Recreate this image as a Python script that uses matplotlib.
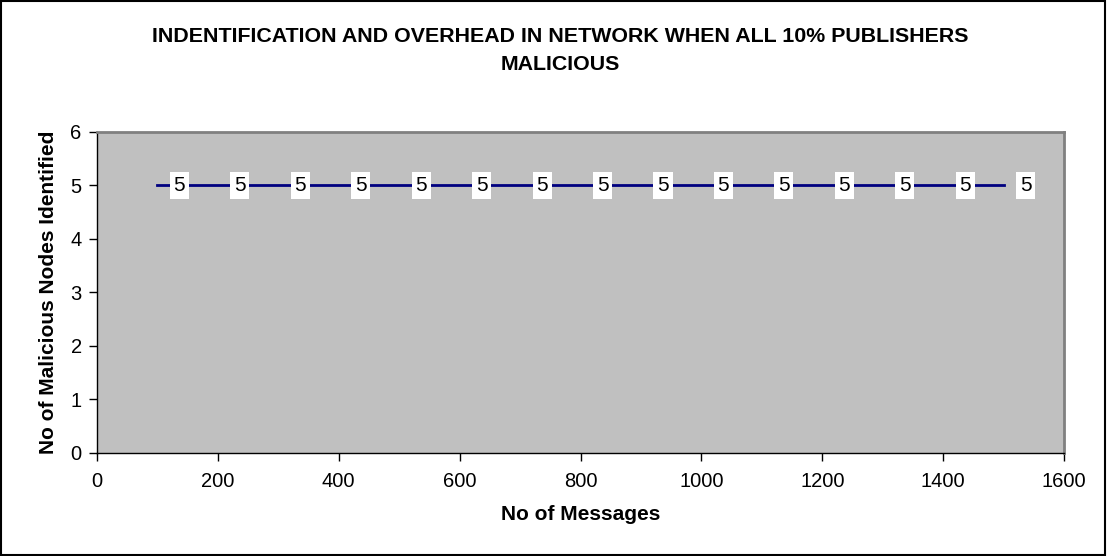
import matplotlib as mpl
mpl.use('Agg')
import matplotlib.pyplot as plt
from matplotlib.patches import Rectangle

# Messages sent vs malicious publishers identified
messages = [100, 200, 300, 400, 500, 600, 700, 800, 900, 1000,
            1100, 1200, 1300, 1400, 1500]
identified = [5, 5, 5, 5, 5, 5, 5, 5, 5, 5, 5, 5, 5, 5, 5]
xticks = [0, 200, 400, 600, 800, 1000, 1200, 1400, 1600]
yticks = [0, 1, 2, 3, 4, 5, 6]
title_lines = ['INDENTIFICATION AND OVERHEAD IN NETWORK WHEN ALL 10% PUBLISHERS',
               'MALICIOUS']

plt.rcParams['font.family'] = ['Liberation Sans', 'DejaVu Sans']

fig = plt.figure(figsize=(11.07, 5.56), dpi=100)
ax = fig.add_axes([0.0876, 0.1853, 0.8736, 0.5773])

# Chart frame around the whole figure
fig.patches.append(Rectangle((0.001, 0.001), 0.997, 0.997, transform=fig.transFigure,
                             fill=False, edgecolor='black', linewidth=1.5))

ax.set_facecolor('#C0C0C0')
ax.plot(messages, identified, color='#000080', linewidth=2)

# Value labels sit just right of each point
for x, y in zip(messages, identified):
    ax.annotate(str(y), (x, y), xytext=(22, 0), textcoords='offset pixels',
                ha='center', va='center', fontsize=15,
                bbox=dict(boxstyle='square,pad=0.18', facecolor='white', edgecolor='none'))

ax.set_xlim(0, 1600)
ax.set_ylim(0, 6)
ax.set_xticks(xticks)
ax.set_yticks(yticks)
ax.tick_params(direction='out', length=6, width=1, labelsize=14.5, pad=8)
ax.tick_params(axis='y', pad=5)

for side in ['top', 'right']:
    ax.spines[side].set_color('#808080')
    ax.spines[side].set_linewidth(2)
for side in ['left', 'bottom']:
    ax.spines[side].set_color('black')
    ax.spines[side].set_linewidth(1)

ax.set_xlabel('No of Messages', fontsize=15, fontweight='bold', labelpad=10)
ax.set_ylabel('No of Malicious Nodes Identified', fontsize=15, fontweight='bold', labelpad=9)

# Two-line chart title
fig.text(0.506, 0.925, title_lines[0], ha='center', va='baseline',
         fontsize=15.4, fontweight='bold')
fig.text(0.506, 0.874, title_lines[1], ha='center', va='baseline',
         fontsize=15.4, fontweight='bold')

fig.savefig('out.png', dpi=100)
